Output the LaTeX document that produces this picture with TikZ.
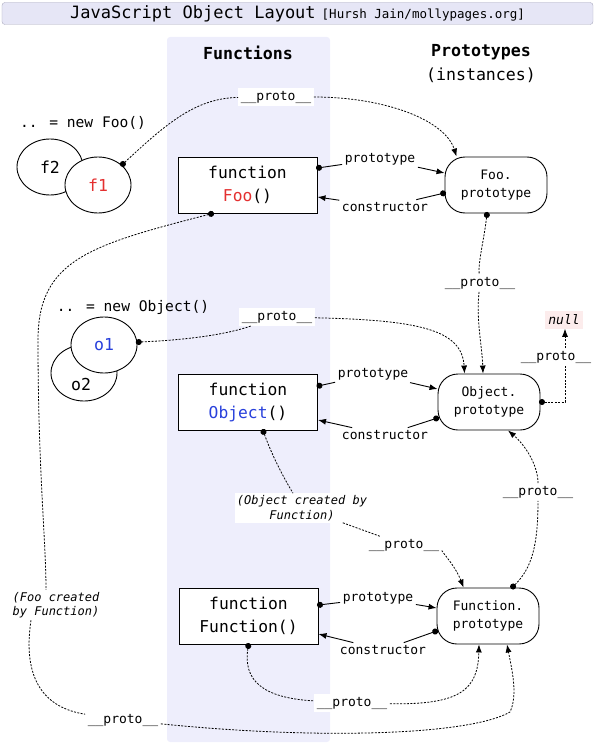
\documentclass[tikz,border=0pt]{standalone}
\usepackage{fontspec}
\setmainfont{DejaVu Sans Mono}
\usetikzlibrary{arrows.meta,calc,shapes.geometric}
\definecolor{bandc}{RGB}{238,238,252}
\definecolor{titlefill}{RGB}{230,230,246}
\definecolor{titleline}{RGB}{170,170,190}
\definecolor{fooRed}{RGB}{228,48,48}
\definecolor{objBlue}{RGB}{40,64,220}
\definecolor{nullbg}{RGB}{252,236,236}
\tikzset{
  fnbox/.style={draw, line width=1bp, fill=white, minimum width=139bp, minimum height=56bp, inner sep=0pt, align=center, font=\fontsize{16.3bp}{23bp}\selectfont},
  protobox/.style={draw, line width=0.9bp, fill=white, rounded corners=20bp, minimum width=102bp, minimum height=56bp, inner sep=0pt, align=center, font=\fontsize{13bp}{18bp}\selectfont},
  inst/.style={draw, ellipse, line width=0.9bp, fill=white, minimum width=66bp, minimum height=56bp, inner sep=0pt, font=\fontsize{16.5bp}{20bp}\selectfont},
  insttxt/.style={inner sep=0pt, font=\fontsize{16.5bp}{20bp}\selectfont},
  lbl/.style={fill=white, inner sep=2.5bp, font=\fontsize{13bp}{16bp}\selectfont},
  plainlbl/.style={inner sep=2.5bp, font=\fontsize{13bp}{16bp}\selectfont},
  notelbl/.style={fill=white, inner sep=2bp, font=\fontsize{12bp}{14.5bp}\selectfont\itshape},
  dsh/.style={line width=0.8bp, dash pattern=on 2bp off 1.4bp},
  solidc/.style={line width=0.9bp},
  arr/.style={-{Latex[length=8bp,width=6bp]}},
  dotline/.style={{Circle[length=6bp]}-, shorten <=-1.5bp},
  headtxt/.style={font=\fontsize{16.6bp}{20bp}\selectfont},
  plaintxt/.style={font=\fontsize{14.6bp}{18bp}\selectfont},
}
\begin{document}
\begin{tikzpicture}[x=1bp,y=-1bp]
\useasboundingbox (0,0) rectangle (600,746);
% column band
\fill[bandc, rounded corners=3bp] (167,37) rectangle (330,742);
% title
\node[draw=titleline, fill=titlefill, rounded corners=3bp, minimum width=591bp, minimum height=22bp, inner sep=0pt, text=black] (title) at (297.5,13.5)
  {{\fontsize{17bp}{20bp}\selectfont JavaScript Object Layout} {\fontsize{12.5bp}{15bp}\selectfont [Hursh Jain/mollypages.org]}};
% headings
\node[headtxt, font=\fontsize{16.6bp}{20bp}\selectfont\bfseries] (hfun) at (248,53) {Functions};
\node[headtxt, font=\fontsize{16.6bp}{20bp}\selectfont\bfseries] (hpro) at (481,52) {Prototypes};
\node[headtxt] (hinst) at (481,75) {(instances)};
% instances
\node[plaintxt] (newfoo) at (83,123) {.. = new Foo()};
\node[inst] (f2) at (50,167) {f2};
\node[inst, text=fooRed] (f1) at (98,185) {f1};
\node[plaintxt] (newobj) at (133,307) {.. = new Object()};
\node[inst] (o2) at (84,373) {};
\node[insttxt] (o2t) at (81,384) {o2};
\node[inst, text=objBlue] (o1) at (104,345) {o1};
% function boxes
\node[fnbox] (fooF) at (247.5,185) {function\\{\color{fooRed}Foo}()};
\node[fnbox] (objF) at (248,402) {function\\{\color{objBlue}Object}()};
\node[fnbox] (funF) at (248.5,616) {function\\Function()};
% prototype boxes
\node[protobox] (fooP) at (496,185) {Foo.\\prototype};
\node[protobox] (objP) at (489,402) {Object.\\prototype};
\node[protobox] (funP) at (488,616) {Function.\\prototype};
\node[fill=nullbg, inner sep=3.5bp, font=\fontsize{13bp}{16bp}\selectfont\itshape] (null) at (564,320) {null};
% labels
\node[lbl] (pt1) at (276,97) {\_\_proto\_\_};
\node[lbl] (pt2) at (480,283) {\_\_proto\_\_};
\node[lbl] (pt3) at (277,317) {\_\_proto\_\_};
\node[lbl] (pt4) at (556,357) {\_\_proto\_\_};
\node[lbl] (pt5) at (538,492) {\_\_proto\_\_};
\node[lbl] (pt6) at (404,545) {\_\_proto\_\_};
\node[lbl] (pt7) at (352,703) {\_\_proto\_\_};
\node[lbl] (pt8) at (123,720) {\_\_proto\_\_};
\node[plainlbl] (fooPt) at (380,159) {prototype};
\node[plainlbl] (fooCo) at (385,207) {constructor};
\node[plainlbl] (objPt) at (373,374) {prototype};
\node[plainlbl] (objCo) at (385,435) {constructor};
\node[plainlbl] (funPt) at (378,598) {prototype};
\node[plainlbl] (funCo) at (383,650) {constructor};
\node[notelbl, align=center] (objC) at (302,508) {(Object created by\\Function)};
\node[notelbl, align=left] (fooC) at (56,605) {(Foo created\\by Function)};
% prototype / constructor links
\draw[solidc, dotline] ($(fooF.east)+(0,-17)$) -- (fooPt);
\draw[solidc, arr] (fooPt) -- ($(fooP.west)+(0,-12)$);
\draw[solidc, dotline] ($(fooP.west)+(0,8)$) -- (fooCo);
\draw[solidc, arr] (fooCo) -- ($(fooF.east)+(0,12)$);
\draw[solidc, dotline] ($(objF.east)+(0,-16)$) -- (objPt);
\draw[solidc, arr] (objPt) -- ($(objP.west)+(0,-13)$);
\draw[solidc, dotline] ($(objP.west)+(0,16)$) -- (objCo);
\draw[solidc, arr] (objCo) -- ($(objF.east)+(0,18)$);
\draw[solidc, dotline] ($(funF.east)+(0,-11)$) -- (funPt);
\draw[solidc, arr] (funPt) -- ($(funP.west)+(0,-8)$);
\draw[solidc, dotline] ($(funP.west)+(0,15)$) -- (funCo);
\draw[solidc, arr] (funCo) -- ($(funF.east)+(0,18)$);
% __proto__ links
\draw[dsh, dotline] (f1.40) .. controls (165,125) and (195,98) .. (pt1);
\draw[dsh, arr] (pt1) .. controls (385,97) and (445,120) .. ($(fooP.north west)+(12,0)$);
\draw[dsh, dotline] ($(fooP.south)+(-9,0)$) .. controls (484,240) and (478,262) .. (pt2);
\draw[dsh, arr] (pt2) .. controls (476,320) and (482,345) .. ($(objP.north)+(-6,0)$);
\draw[dsh, dotline] (o1.5) .. controls (185,340) and (225,335) .. (pt3);
\draw[dsh, arr] (pt3) .. controls (420,320) and (462,330) .. ($(objP.north west)+(27,0)$);
\coordinate (nk) at (565,402);
\draw[dsh, dotline] (objP.east) -- (nk) -- (nk |- pt4.south);
\draw[dsh, arr] (nk |- pt4.north) -- (nk |- null.south);
\draw[dsh, dotline] ($(objF.south)+(15,0)$) .. controls (272,455) and (282,475) .. (objC);
\draw[dsh] (objC) -- (pt6);
\draw[dsh, arr] (pt6) .. controls (440,550) and (455,565) .. ($(funP.north west)+(27,0)$);
\draw[dsh, dotline] ($(funP.north)+(24,0)$) .. controls (532,568) and (538,545) .. (pt5);
\draw[dsh, arr] (pt5) .. controls (538,465) and (525,445) .. ($(objP.south)+(19,0)$);
\draw[dsh, dotline] (funF.south) .. controls (243,680) and (262,698) .. (pt7);
\draw[dsh, arr] (pt7) .. controls (460,705) and (478,690) .. ($(funP.south)+(-9,0)$);
\draw[dsh, dotline] ($(fooF.south)+(-35,0)$) .. controls (90,245) and (38,260) .. (38,340) .. controls (38,470) and (46,540) .. ($(fooC.north)+(-10,0)$);
\draw[dsh] ($(fooC.south)+(-25,0)$) .. controls (22,680) and (45,708) .. (pt8);
\draw[dsh, arr] (pt8) .. controls (320,740) and (470,735) .. (510,712) .. controls (518,695) and (512,670) .. ($(funP.south)+(19,0)$);
\end{tikzpicture}
\end{document}
